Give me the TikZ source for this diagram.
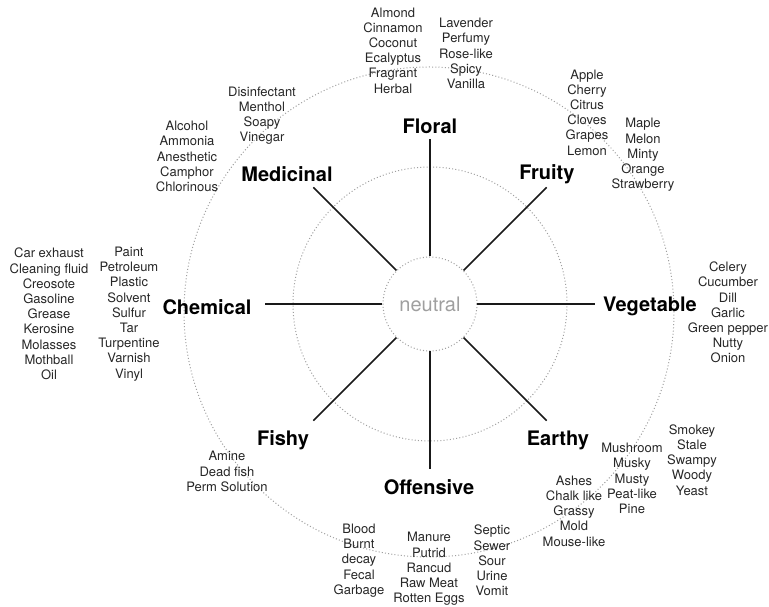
\documentclass[tikz,border=0pt]{standalone}
\usepackage{fontspec}
\setmainfont{TeX Gyre Heros}
\usepackage{tikz}
\usetikzlibrary{positioning}

\begin{document}
\begin{tikzpicture}[x=1pt,y=1pt,
  odour/.style={font=\bfseries\fontsize{20}{24}\selectfont, inner sep=0pt},
  notes/.style={align=center, font=\fontsize{13}{15.2}\selectfont, text=black!85, inner sep=0pt},
  ring/.style={gray!75, line width=1pt, dash pattern=on 1pt off 2.2pt},
  spoke/.style={line width=1.5pt, black!90}]
\useasboundingbox (-430,-303) rectangle (339,304);
% rings
\draw[ring] (0,0) circle (137);
\draw[ring] (-1,-8) circle (245);
\node[circle, draw, ring, minimum size=94pt, text=gray!75, font=\fontsize{20}{24}\selectfont] (neutral) at (0,0) {neutral};
% spokes
\foreach \a/\n in {90/floral,45/fruity,0/vegetable,-45/earthy,-90/offensive,-135/fishy,180/chemical,135/medicinal}{
  \coordinate (\n-end) at (\a:165);
  \draw[spoke] (neutral.\a) -- (\n-end);
}
% categories
\node[odour] (floral) at (0,178) {Floral};
\node[odour] (fruity) at (117,130) {Fruity};
\node[odour] (vegetable) at (220,-2) {Vegetable};
\node[odour] (earthy) at (128,-136) {Earthy};
\node[odour] (offensive) at (-1,-183) {Offensive};
\node[odour] (fishy) at (-147,-136) {Fishy};
\node[odour] (chemical) at (-223,-3) {Chemical};
\node[odour] (medicinal) at (-143,130) {Medicinal};
% descriptors
\node[notes] (floral-a) at (-37,253.5) {Almond\\Cinnamon\\Coconut\\Ecalyptus\\Fragrant\\Herbal};
\node[notes] (floral-b) at (36,250.5) {Lavender\\Perfumy\\Rose-like\\Spicy\\Vanilla};
\node[notes] (fruity-a) at (157,191.5) {Apple\\Cherry\\Citrus\\Cloves\\Grapes\\Lemon};
\node[notes] (fruity-b) at (213,149) {Maple\\Melon\\Minty\\Orange\\Strawberry};
\node[notes] (vegetable-a) at (298,-8.5) {Celery\\Cucumber\\Dill\\Garlic\\Green pepper\\Nutty\\Onion};
\node[notes] (earthy-a) at (144,-207) {Ashes\\Chalk like\\Grassy\\Mold\\Mouse-like};
\node[notes] (earthy-b) at (202,-174.5) {Mushroom\\Musky\\Musty\\Peat-like\\Pine};
\node[notes] (earthy-c) at (262,-156) {Smokey\\Stale\\Swampy\\Woody\\Yeast};
\node[notes] (offensive-a) at (-71,-256.5) {Blood\\Burnt\\decay\\Fecal\\Garbage};
\node[notes] (offensive-b) at (-1,-265) {Manure\\Putrid\\Rancud\\Raw Meat\\Rotten Eggs};
\node[notes] (offensive-c) at (62,-256.5) {Septic\\Sewer\\Sour\\Urine\\Vomit};
\node[notes] (fishy-a) at (-203,-167.5) {Amine\\Dead fish\\Perm Solution};
\node[notes] (chemical-a) at (-381,-10) {Car exhaust\\Cleaning fluid\\Creosote\\Gasoline\\Grease\\Kerosine\\Molasses\\Mothball\\Oil};
\node[notes] (chemical-b) at (-301,-10) {Paint\\Petroleum\\Plastic\\Solvent\\Sulfur\\Tar\\Turpentine\\Varnish\\Vinyl};
\node[notes] (medicinal-a) at (-168,188.5) {Disinfectant\\Menthol\\Soapy\\Vinegar};
\node[notes] (medicinal-b) at (-243,147.5) {Alcohol\\Ammonia\\Anesthetic\\Camphor\\Chlorinous};
\end{tikzpicture}
\end{document}
